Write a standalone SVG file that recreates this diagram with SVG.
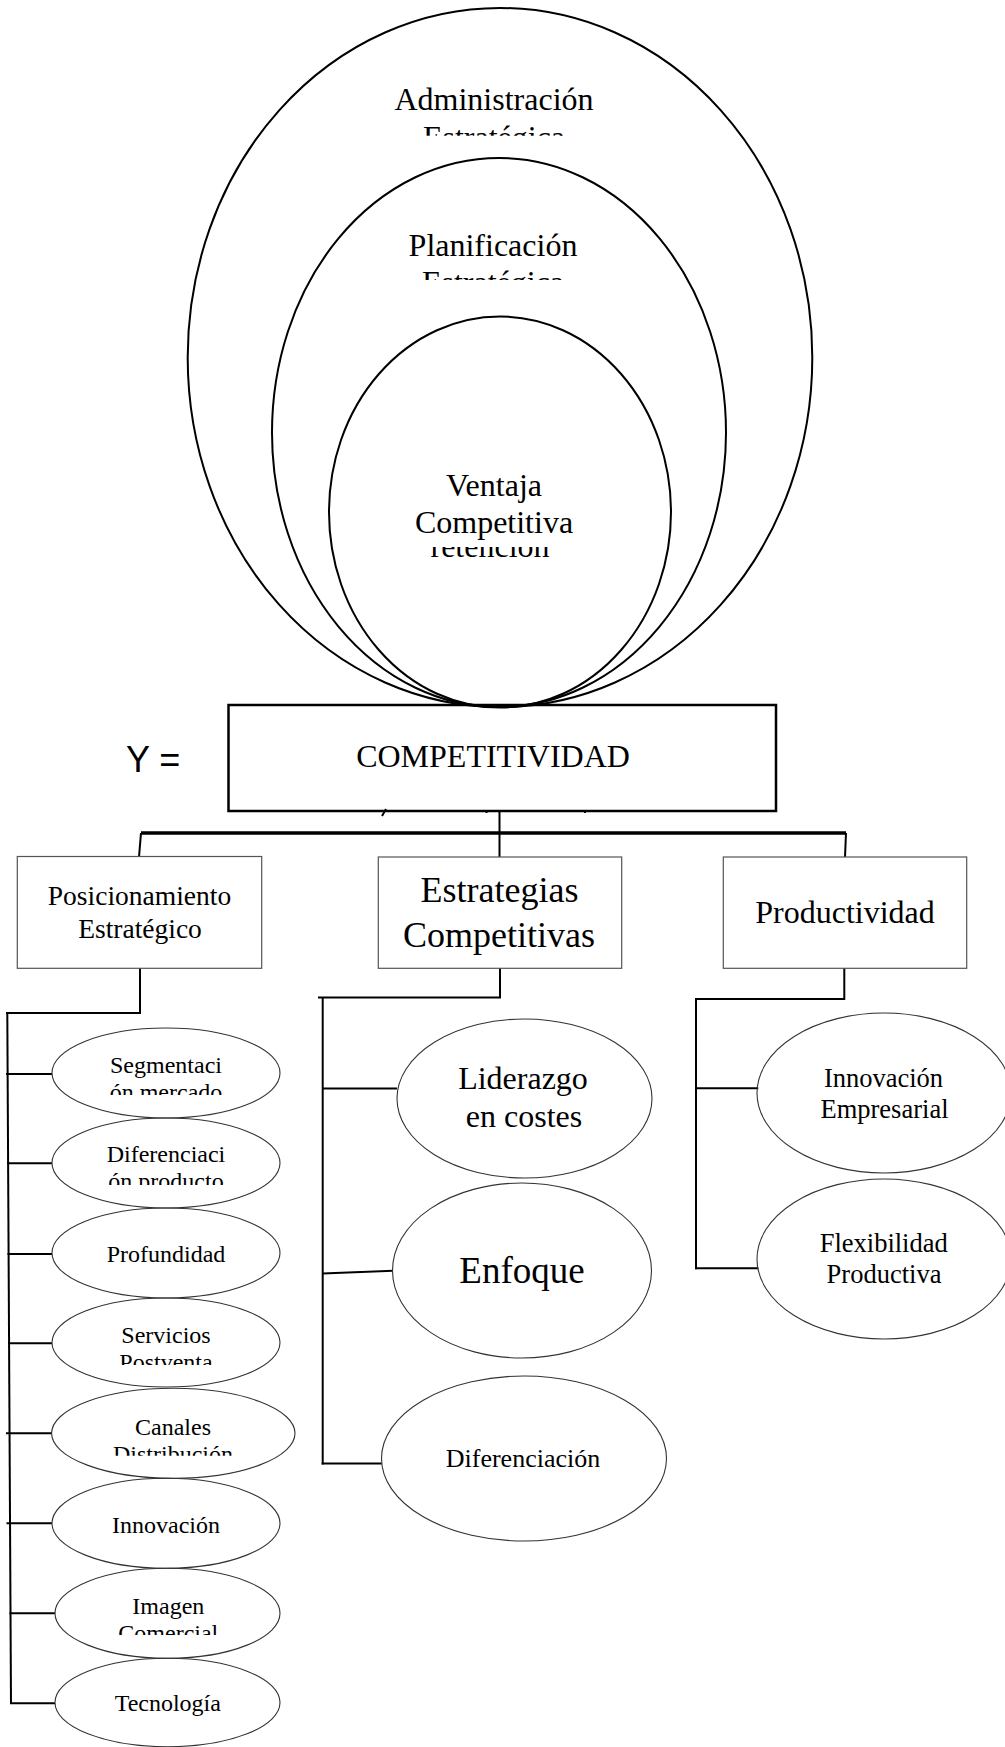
<svg xmlns="http://www.w3.org/2000/svg" width="1005" height="1747" viewBox="0 0 1005 1747">
  <defs>
    <style>
      .ring { fill: none; stroke: #000; stroke-width: 2; }
      .main { fill: none; stroke: #000; stroke-width: 2.5; }
      .box  { fill: none; stroke: #555; stroke-width: 1.2; }
      .ell  { fill: none; stroke: #333; stroke-width: 1.1; }
      .ln   { fill: none; stroke: #000; stroke-width: 2; }
      .lnb  { fill: none; stroke: #000; stroke-width: 3.5; }
      .t    { font-family: "Liberation Serif", "Times New Roman", serif; fill: #000; text-anchor: middle; }
      .s24  { font-size: 24px; }
      .s26  { font-size: 26.5px; }
      .s27  { font-size: 27.5px; }
      .s32  { font-size: 32px; }
      .s36  { font-size: 36px; }
      .s37  { font-size: 37px; }
    </style>
    <!-- text frames that cut off the second line of each label -->
    <clipPath id="cpAdm"><rect x="350" y="60" width="300" height="75.7"/></clipPath>
    <clipPath id="cpPlan"><rect x="350" y="200" width="300" height="80"/></clipPath>
    <clipPath id="cpRet"><rect x="400" y="547" width="200" height="15"/></clipPath>
    <clipPath id="cpSeg"><rect x="60" y="1040" width="210" height="55"/></clipPath>
    <clipPath id="cpDif"><rect x="60" y="1130" width="210" height="55"/></clipPath>
    <clipPath id="cpSer"><rect x="60" y="1310" width="210" height="55"/></clipPath>
    <clipPath id="cpCan"><rect x="60" y="1400" width="230" height="55.7"/></clipPath>
    <clipPath id="cpImg"><rect x="60" y="1580" width="210" height="55"/></clipPath>
  </defs>

  <rect x="0" y="0" width="1005" height="1747" fill="#fff"/>

  <!-- connectors -->
  <g id="connectors">
    <!-- competitividad to the three pillars -->
    <line class="ln" x1="499.5" y1="811" x2="499.5" y2="857"/>
    <line class="lnb" x1="141" y1="833" x2="846" y2="833"/>
    <line class="ln" x1="141" y1="833" x2="139" y2="857"/>
    <line class="ln" x1="846" y1="833" x2="845" y2="857"/>
    <!-- small marks under the main box -->
    <line class="ln" x1="386" y1="809" x2="382" y2="816" stroke-width="1.5"/>
    <line class="ln" x1="486.5" y1="810" x2="486.5" y2="813" stroke-width="1.2"/>
    <line class="ln" x1="585" y1="810" x2="585" y2="813" stroke-width="1.2"/>

    <!-- posicionamiento branch -->
    <polyline class="ln" points="140,968 140,1013 6,1013"/>
    <line class="ln" x1="7.3" y1="1013" x2="11" y2="1703.5"/>
    <line class="ln" x1="6" y1="1074" x2="52" y2="1074" stroke-width="2.8"/>
    <line class="ln" x1="7" y1="1163.3" x2="52" y2="1163.3"/>
    <line class="ln" x1="7.5" y1="1254" x2="52" y2="1254"/>
    <line class="ln" x1="8" y1="1343.3" x2="52" y2="1343.3"/>
    <line class="ln" x1="6" y1="1433.3" x2="52" y2="1433.3"/>
    <line class="ln" x1="6.5" y1="1523.3" x2="52" y2="1523.3"/>
    <line class="ln" x1="9.5" y1="1613.3" x2="55" y2="1613.3"/>
    <line class="ln" x1="10" y1="1703.3" x2="55" y2="1703.3"/>

    <!-- estrategias branch -->
    <polyline class="ln" points="500,968 500,997.5 318,997.5"/>
    <line class="ln" x1="322.7" y1="997.5" x2="322.7" y2="1464.6"/>
    <line class="ln" x1="322.7" y1="1088.6" x2="397" y2="1088.6"/>
    <line class="ln" x1="322.7" y1="1273.6" x2="393" y2="1270.7"/>
    <line class="ln" x1="321.7" y1="1463.6" x2="381.7" y2="1463.6"/>

    <!-- productividad branch -->
    <polyline class="ln" points="844.3,968 844.3,999 696,999"/>
    <line class="ln" x1="696" y1="998" x2="696" y2="1269.3" stroke-width="2.5"/>
    <line class="ln" x1="696" y1="1088.3" x2="758.3" y2="1088.3"/>
    <line class="ln" x1="695" y1="1268.3" x2="758.3" y2="1268.3" stroke-width="2.5"/>
  </g>

  <!-- nested strategy rings -->
  <g id="administracion">
    <ellipse class="ring" cx="500" cy="357.5" rx="312.3" ry="349.5"/>
    <text class="t s32" x="494" y="110">Administración</text>
    <text class="t s32" x="494" y="147.7" clip-path="url(#cpAdm)">Estratégica</text>
  </g>
  <g id="planificacion">
    <ellipse class="ring" cx="499" cy="432.5" rx="227" ry="274.5"/>
    <text class="t s32" x="493" y="255.7">Planificación</text>
    <text class="t s32" x="493" y="293.4" clip-path="url(#cpPlan)">Estratégica</text>
  </g>
  <g id="ventaja">
    <ellipse class="ring" cx="500" cy="512" rx="171" ry="195.5"/>
    <text class="t s32" x="494" y="496">Ventaja</text>
    <text class="t s32" x="494" y="532.7">Competitiva</text>
    <text class="t s32" x="490" y="557" clip-path="url(#cpRet)">retención</text>
  </g>

  <!-- Y = competitividad -->
  <text x="126" y="771.7" font-family="'Liberation Sans', Arial, sans-serif" font-size="36">Y =</text>
  <g id="competitividad">
    <rect class="main" x="228.5" y="705" width="547.5" height="106"/>
    <text class="t s32" x="493" y="767">COMPETITIVIDAD</text>
  </g>

  <!-- second level -->
  <g id="posicionamiento">
    <rect class="box" x="17.3" y="856.5" width="244.4" height="111.8"/>
    <text class="t s27" x="139.5" y="905">Posicionamiento</text>
    <text class="t s27" x="140" y="937.7">Estratégico</text>
  </g>
  <g id="estrategias">
    <rect class="box" x="378.3" y="857" width="243.4" height="111.3"/>
    <text class="t s36" x="499.5" y="902">Estrategias</text>
    <text class="t s36" x="499" y="947">Competitivas</text>
  </g>
  <g id="productividad">
    <rect class="box" x="723.3" y="857" width="243.4" height="111.3"/>
    <text class="t s32" x="845" y="923">Productividad</text>
  </g>

  <!-- posicionamiento factors -->
  <g id="segmentacion">
    <ellipse class="ell" cx="166" cy="1073" rx="114" ry="45"/>
    <text class="t s24" x="166" y="1073.3">Segmentaci</text>
    <text class="t s24" x="166" y="1099.5" clip-path="url(#cpSeg)">ón mercado</text>
  </g>
  <g id="diferenciacion-producto">
    <ellipse class="ell" cx="166" cy="1163" rx="114" ry="45"/>
    <text class="t s24" x="166" y="1162.3">Diferenciaci</text>
    <text class="t s24" x="166" y="1188.5" clip-path="url(#cpDif)">ón producto</text>
  </g>
  <g id="profundidad">
    <ellipse class="ell" cx="166" cy="1253" rx="114" ry="45"/>
    <text class="t s24" x="166" y="1262.3">Profundidad</text>
  </g>
  <g id="servicios">
    <ellipse class="ell" cx="166" cy="1342.5" rx="114" ry="44.5"/>
    <text class="t s24" x="166" y="1343.3">Servicios</text>
    <text class="t s24" x="166" y="1369.5" clip-path="url(#cpSer)">Postventa</text>
  </g>
  <g id="canales">
    <ellipse class="ell" cx="173.3" cy="1433.3" rx="121.7" ry="45"/>
    <text class="t s24" x="173" y="1435">Canales</text>
    <text class="t s24" x="173" y="1461.5" clip-path="url(#cpCan)">Distribución</text>
  </g>
  <g id="innovacion">
    <ellipse class="ell" cx="166" cy="1523.3" rx="114" ry="45"/>
    <text class="t s24" x="166" y="1532.7">Innovación</text>
  </g>
  <g id="imagen">
    <ellipse class="ell" cx="167.5" cy="1613.3" rx="112.5" ry="45"/>
    <text class="t s24" x="168.3" y="1614">Imagen</text>
    <text class="t s24" x="168.3" y="1640.5" clip-path="url(#cpImg)">Comercial</text>
  </g>
  <g id="tecnologia">
    <ellipse class="ell" cx="167.5" cy="1702.5" rx="112.5" ry="44.2"/>
    <text class="t s24" x="167.8" y="1711">Tecnología</text>
  </g>

  <!-- competitive strategies -->
  <g id="liderazgo">
    <ellipse class="ell" cx="524.5" cy="1098.5" rx="127.5" ry="79.5"/>
    <text class="t s32" x="523" y="1089.3">Liderazgo</text>
    <text class="t s32" x="524" y="1127">en costes</text>
  </g>
  <g id="enfoque">
    <ellipse class="ell" cx="522" cy="1270.5" rx="129.5" ry="87.5"/>
    <text class="t s37" x="522" y="1283.2">Enfoque</text>
  </g>
  <g id="diferenciacion">
    <ellipse class="ell" cx="524" cy="1458.5" rx="142.5" ry="82.5"/>
    <text class="t" font-size="26" x="523" y="1467">Diferenciación</text>
  </g>

  <!-- productivity factors -->
  <g id="innovacion-empresarial">
    <ellipse class="ell" cx="884" cy="1093" rx="127" ry="80"/>
    <text class="t s26" x="883.5" y="1086.7">Innovación</text>
    <text class="t s26" x="884.5" y="1118.3">Empresarial</text>
  </g>
  <g id="flexibilidad">
    <ellipse class="ell" cx="884" cy="1259" rx="127" ry="80"/>
    <text class="t s26" x="883.7" y="1251.7">Flexibilidad</text>
    <text class="t s26" x="884" y="1282.7">Productiva</text>
  </g>
</svg>
